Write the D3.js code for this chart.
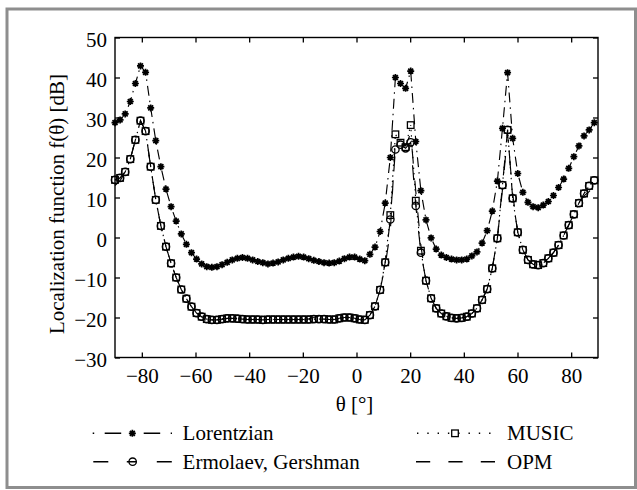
<!DOCTYPE html>
<html>
<head>
<meta charset="utf-8">
<script src="https://cdn.jsdelivr.net/npm/d3@7"></script>
<style>
  body { margin: 0; background: #fff; }
  svg { display: block; font-family: "Liberation Serif", "Times New Roman", serif; }
</style>
</head>
<body>
<main></main>
<script>
// angle grid of the markers (deg)
const theta = [-90, -88.1, -86.2, -84.3, -82.4, -80.5, -78.6, -76.7, -74.8, -72.9,
  -71, -69.1, -67.2, -65.3, -63.4, -61.5, -59.6, -57.7, -55.8, -53.9,
  -52, -50.1, -48.2, -46.3, -44.4, -42.5, -40.6, -38.7, -36.8, -34.9,
  -33, -31.1, -29.2, -27.3, -25.4, -23.5, -21.6, -19.7, -17.8, -15.9,
  -14, -12.1, -10.2, -8.3, -6.4, -4.5, -2.6, -0.7, 1.2, 3.1,
  5, 6.9, 8.8, 10.7, 12.6, 14.5, 16.4, 18.3, 20.2, 22.1,
  24, 25.9, 27.8, 29.7, 31.6, 33.5, 35.4, 37.3, 39.2, 41.1,
  43, 44.9, 46.8, 48.7, 50.6, 52.5, 54.4, 56.3, 58.2, 60.1,
  62, 63.9, 65.8, 67.7, 69.6, 71.5, 73.4, 75.3, 77.2, 79.1,
  81, 82.9, 84.8, 86.7, 88.6];

const lorentzian = [28.7, 29.4, 30.9, 34.0, 38.5, 42.9, 41.3, 32.4, 24.2, 17.7,
  12.1, 7.7, 4.1, 0.9, -1.7, -3.8, -5.4, -6.6, -7.3, -7.45,
  -7.3, -6.8, -6.2, -5.6, -5.2, -5.0, -5.2, -5.6, -6.0, -6.3,
  -6.6, -6.4, -6.1, -5.6, -5.2, -4.9, -4.7, -4.9, -5.3, -5.7,
  -6.0, -6.3, -6.4, -6.3, -5.9, -5.3, -4.9, -4.9, -5.4, -5.8,
  -4.2, -2.4, 1.5, 8.6, 20.0, 40.0, 38.5, 37.3, 41.6, 24.0,
  11.7, 4.4, -0.1, -2.9, -4.4, -5.0, -5.4, -5.6, -5.6, -5.4,
  -4.6, -3.6, -1.4, 1.7, 6.6, 14.1, 27.3, 41.2, 24.8, 16.0,
  11.3, 8.8, 7.7, 7.45, 8.1, 9.0, 10.5, 12.5, 14.6, 17.3,
  20.2, 22.9, 25.4, 26.9, 28.7];

const music = [14.4, 14.9, 16.4, 19.6, 24.4, 29.2, 26.6, 17.7, 9.4, 2.9,
  -2.3, -6.45, -10.0, -13.0, -15.3, -17.3, -18.9, -19.8, -20.4, -20.6,
  -20.6, -20.4, -20.2, -20.2, -20.3, -20.4, -20.5, -20.5, -20.5, -20.6,
  -20.5, -20.5, -20.5, -20.5, -20.5, -20.5, -20.5, -20.5, -20.5, -20.4,
  -20.4, -20.4, -20.5, -20.5, -20.2, -20.0, -20.0, -20.2, -20.5, -20.6,
  -19.4, -17.2, -13.1, -6.2, 5.6, 25.8, 23.7, 22.6, 28.1, 9.2,
  -3.3, -10.8, -15.2, -17.7, -19.0, -19.7, -20.1, -20.2, -20.1, -19.8,
  -19.0, -17.7, -15.6, -12.9, -7.7, -0.2, 13.1, 26.9, 9.8, 1.3,
  -3.1, -5.6, -6.7, -6.9, -6.4, -5.2, -3.8, -1.9, 0.5, 3.1,
  5.8, 8.6, 11.0, 12.9, 14.3];

const ermolaev = [14.4, 14.9, 16.4, 19.6, 24.4, 29.2, 26.6, 17.7, 9.4, 2.9,
  -2.3, -6.45, -10.0, -13.0, -15.3, -17.3, -18.9, -19.8, -20.4, -20.6,
  -20.6, -20.4, -20.2, -20.2, -20.3, -20.4, -20.5, -20.5, -20.5, -20.6,
  -20.5, -20.5, -20.5, -20.5, -20.5, -20.5, -20.5, -20.5, -20.5, -20.4,
  -20.4, -20.4, -20.5, -20.5, -20.2, -20.0, -20.0, -20.2, -20.5, -20.6,
  -19.4, -17.2, -13.1, -6.2, 4.5, 22.0, 23.2, 22.3, 23.8, 7.9,
  -3.8, -10.8, -15.2, -17.7, -19.0, -19.7, -20.1, -20.2, -20.1, -19.8,
  -19.0, -17.7, -15.6, -12.9, -7.7, -0.2, 13.1, 26.9, 9.8, 1.3,
  -3.1, -5.6, -6.7, -6.9, -6.4, -5.2, -3.8, -1.9, 0.5, 3.1,
  5.8, 8.6, 11.0, 12.9, 14.3];

const opm = [13.0, 14.2, 16.4, 19.6, 24.4, 29.2, 26.6, 17.7, 9.4, 2.9,
  -2.3, -6.45, -10.0, -13.0, -15.3, -17.3, -18.9, -19.8, -20.4, -20.6,
  -20.6, -20.4, -20.2, -20.2, -20.3, -20.4, -20.5, -20.5, -20.5, -20.6,
  -20.5, -20.5, -20.5, -20.5, -20.5, -20.5, -20.5, -20.5, -20.3, -20.0,
  -19.6, -19.6, -20.1, -20.5, -20.2, -20.0, -20.0, -20.2, -20.5, -20.6,
  -19.4, -17.2, -13.1, -7.0, 1.5, 24.5, 23.0, 23.0, 26.0, 11.5,
  -2.0, -10.8, -15.2, -17.7, -19.0, -19.7, -20.1, -20.2, -20.1, -19.8,
  -19.0, -17.7, -15.6, -12.9, -7.7, -0.2, 12.0, 26.0, 11.0, 1.3,
  -3.1, -5.6, -6.7, -6.9, -6.4, -5.2, -3.8, -1.9, 0.5, 3.1,
  5.8, 8.6, 10.4, 11.5, 12.8];

const xTicks = [-80, -60, -40, -20, 0, 20, 40, 60, 80];
const yTicks = [-30, -20, -10, 0, 10, 20, 30, 40, 50];
const legendNames = ["Lorentzian", "MUSIC", "Ermolaev, Gershman", "OPM"];

const svgWidth = 637,
  svgHeight = 490,
  plotLeft = 115,
  plotRight = 598,
  plotTop = 37.5,
  plotBottom = 357.5;

const xScale = d3.scaleLinear().domain([-90, 90]).range([plotLeft, plotRight]),
  yScale = d3.scaleLinear().domain([-30, 50]).range([plotBottom, plotTop]);

const svg = d3
  .select("main")
  .append("svg")
  .attr("width", svgWidth)
  .attr("height", svgHeight);

svg.append("rect")
  .attr("width", svgWidth).attr("height", svgHeight)
  .attr("fill", "#fff");

// grey outer frame
svg.append("rect")
  .attr("x", 7).attr("y", 9)
  .attr("width", 628.5).attr("height", 478.5)
  .attr("fill", "none")
  .attr("stroke", "#8e8e8e")
  .attr("stroke-width", 3);

// axes, ticks pointing inside
const gx = svg.append("g")
  .attr("transform", `translate(0,${plotBottom})`)
  .call(d3.axisBottom(xScale).tickValues(xTicks).tickSize(-5).tickSizeOuter(0));
gx.selectAll("text").attr("y", 25).attr("dy", null);

const gy = svg.append("g")
  .attr("transform", `translate(${plotLeft},0)`)
  .call(d3.axisLeft(yScale).tickValues(yTicks).tickSize(-5).tickSizeOuter(0));
gy.selectAll("text").attr("x", -8).attr("dy", "0.41em");

svg.append("g")
  .attr("transform", `translate(0,${plotTop})`)
  .call(d3.axisTop(xScale).tickValues(xTicks).tickSize(-5).tickSizeOuter(0).tickFormat(""));
svg.append("g")
  .attr("transform", `translate(${plotRight},0)`)
  .call(d3.axisRight(yScale).tickValues(yTicks).tickSize(-5).tickSizeOuter(0).tickFormat(""));

svg.selectAll(".domain").remove();
svg.selectAll(".tick line").attr("stroke", "#000").attr("stroke-width", 1.3);
svg.selectAll(".tick text")
  .attr("font-family", "'Liberation Serif', 'Times New Roman', serif")
  .attr("font-size", 21)
  .attr("fill", "#000");

svg.append("rect")
  .attr("x", plotLeft).attr("y", plotTop)
  .attr("width", plotRight - plotLeft).attr("height", plotBottom - plotTop)
  .attr("fill", "none")
  .attr("stroke", "#000")
  .attr("stroke-width", 1.4);

svg.append("text")
  .attr("x", (plotLeft + plotRight) / 2 - 2)
  .attr("y", 411)
  .attr("text-anchor", "middle")
  .attr("font-size", 21)
  .text("θ [°]");

svg.append("text")
  .attr("transform", "translate(64,204) rotate(-90)")
  .attr("text-anchor", "middle")
  .attr("font-size", 21)
  .text("Localization function f(θ) [dB]");

// series
const series = [
  { name: "OPM", values: opm, dash: "14,18", marker: null },
  { name: "Ermolaev, Gershman", values: ermolaev, dash: "15,18", marker: "circle" },
  { name: "MUSIC", values: music, dash: "1.4,4", marker: "square" },
  { name: "Lorentzian", values: lorentzian, dash: "10,5,1.5,5", marker: "star" }
];

const line = d3.line()
  .x((d, i) => xScale(theta[i]))
  .y(d => yScale(d));

series.forEach(s => {
  svg.append("path")
    .attr("d", line(s.values))
    .attr("fill", "none")
    .attr("stroke", "#000")
    .attr("stroke-width", 1.15)
    .attr("stroke-dasharray", s.dash);
});

const starPath = r => {
  const a = r * 0.707;
  return `M${-r},0L${r},0M0,${-r}L0,${r}M${-a},${-a}L${a},${a}M${-a},${a}L${a},${-a}`;
};

function drawMarker(g, type, x, y) {
  if (type === "circle") {
    g.append("circle").attr("cx", x).attr("cy", y).attr("r", 3.7)
      .attr("fill", "none").attr("stroke", "#000").attr("stroke-width", 1.3);
  } else if (type === "square") {
    g.append("rect").attr("x", x - 3.3).attr("y", y - 3.3)
      .attr("width", 6.6).attr("height", 6.6)
      .attr("fill", "none").attr("stroke", "#000").attr("stroke-width", 1.3);
  } else if (type === "star") {
    g.append("path").attr("transform", `translate(${x},${y})`)
      .attr("d", starPath(3.5))
      .attr("fill", "none").attr("stroke", "#000").attr("stroke-width", 1.7);
  }
}

series.filter(s => s.marker).forEach(s => {
  const g = svg.append("g");
  s.values.forEach((v, i) => drawMarker(g, s.marker, xScale(theta[i]), yScale(v)));
});

// legend
const legend = svg.append("g").attr("font-size", 21);
const legendRows = [
  { name: legendNames[0], x1: 92.7, x2: 172, y: 433.3, dash: "1.5,10.5,16.5,10.5", marker: "star" },
  { name: legendNames[1], x1: 417, x2: 493, y: 433.3, dash: "1.4,8.9", marker: "square" },
  { name: legendNames[2], x1: 93.3, x2: 172, y: 461.7, dash: "15,18.5,10,20,15", marker: "circle" },
  { name: legendNames[3], x1: 416, x2: 495, y: 461.7, dash: "14.2,18.2", marker: null }
];
legendRows.forEach(r => {
  legend.append("line")
    .attr("x1", r.x1).attr("x2", r.x2)
    .attr("y1", r.y).attr("y2", r.y)
    .attr("stroke", "#000")
    .attr("stroke-width", 1.4)
    .attr("stroke-dasharray", r.dash);
  if (r.marker) drawMarker(legend, r.marker, (r.x1 + r.x2) / 2, r.y);
  legend.append("text")
    .attr("x", r.x1 < 300 ? 182.6 : 507)
    .attr("y", r.y + 7)
    .text(r.name);
});
</script>
</body>
</html>
